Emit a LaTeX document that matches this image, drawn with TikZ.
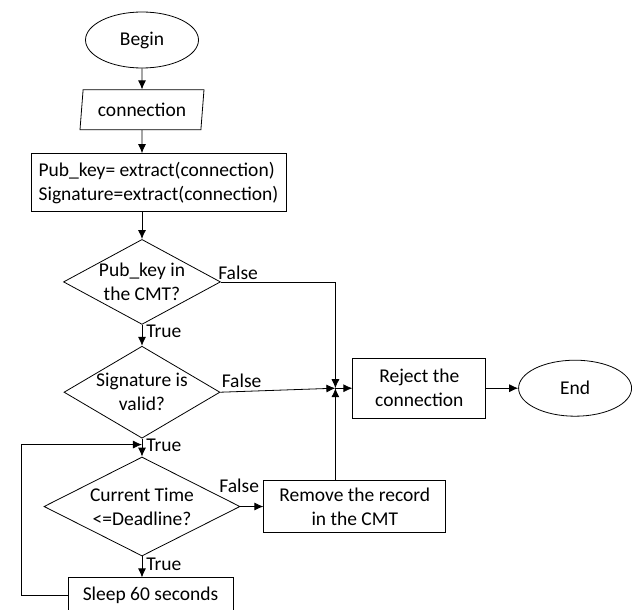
\documentclass[tikz,border=0pt]{standalone}
\usepackage{fontspec}
\setmainfont{Carlito}
\usetikzlibrary{arrows.meta,positioning,shapes.geometric,calc}

\begin{document}
\begin{tikzpicture}[font=\fontsize{19.5}{24}\selectfont,>=Latex,line width=0.8pt,
  term/.style={draw,ellipse,minimum width=113pt,minimum height=56pt,inner sep=0pt},
  io/.style={draw,trapezium,trapezium left angle=80,trapezium right angle=100,
    trapezium stretches body,minimum width=124pt,minimum height=40pt,inner sep=2pt},
  proc/.style={draw,align=center,inner sep=4pt},
  test/.style={draw,diamond,inner sep=0pt},
  tag/.style={inner sep=1pt},
  ar/.style={-{Latex[length=9pt,width=8pt]}}]
\useasboundingbox (0,0) rectangle (632pt,-610pt);
% --- main column ---
\node[term] (begin) at (142pt,-40pt) {Begin};
\node[io,below=21pt of begin] (conn) {connection};
\node[proc,align=left,minimum width=255pt,minimum height=58pt,
  below=23pt of conn,xshift=16.5pt] (ext)
  {Pub\_key= extract(connection)\\Signature=extract(connection)};
\node[test,minimum width=157pt,minimum height=85pt,anchor=north,
  label={[align=center]center:Pub\_key in\\the CMT?}] (q1)
  at ([yshift=-27pt]ext.south -| conn) {};
\node[test,minimum width=156pt,minimum height=92pt,below=21pt of q1,
  label={[align=center]center:Signature is\\valid?}] (q2) {};
\node[test,minimum width=196pt,minimum height=99pt,below=18pt of q2,
  label={[align=center]center:Current Time\\<=Deadline?}] (q3) {};
\node[proc,minimum width=165pt,minimum height=35pt,below=21pt of q3,xshift=8.5pt] (sleep)
  {Sleep 60 seconds};
% --- right side ---
\coordinate (J) at ($(q2.east)+(115pt,4pt)$);
\coordinate (lp) at ($(q2.south)!0.33!(q3.north)$);
\node[proc,minimum width=133pt,minimum height=60pt,right=17pt of J] (rej)
  {Reject the\\connection};
\node[term,right=32pt of rej] (end) {End};
\node[proc,minimum width=182pt,minimum height=52pt,right=23pt of q3] (rem)
  {Remove the record\\in the CMT};
% --- connectors ---
\draw[ar] (begin) -- (conn);
\draw[ar] (conn) -- (conn |- ext.north);
\draw[ar] (ext.south -| conn) -- (q1);
\draw[ar] (q1) -- (q2);
\draw[ar] (q2) -- (q3);
\draw[ar] (q3) -- (q3 |- sleep.north);
\draw[ar] (sleep.west) -- ++(-46pt,0) |- (lp);
\draw[ar] (q1.east) -| (J);
\draw[ar] (q2.east) -- (J);
\draw[ar] (rem.north -| J) -- (J);
\draw[ar] (q3.east) -- (rem);
\draw[ar] (J) -- (rej);
\draw[ar] (rej) -- (end);
% --- branch labels ---
\node[tag,anchor=west] (t1) at ([xshift=3pt,yshift=-7pt]q1.south) {True};
\node[tag,anchor=west] (t2) at ([xshift=3pt,yshift=-7pt]q2.south) {True};
\node[tag,anchor=west] (t3) at ([xshift=3pt,yshift=-8pt]q3.south) {True};
\node[tag,anchor=south west] (f1) at ([xshift=-4pt,yshift=1pt]q1.east) {False};
\node[tag,anchor=south west] (f2) at ([yshift=3pt]q2.east) {False};
\node[tag,anchor=south east] (f3) at ([xshift=20pt,yshift=12pt]q3.east) {False};
\end{tikzpicture}
\end{document}
